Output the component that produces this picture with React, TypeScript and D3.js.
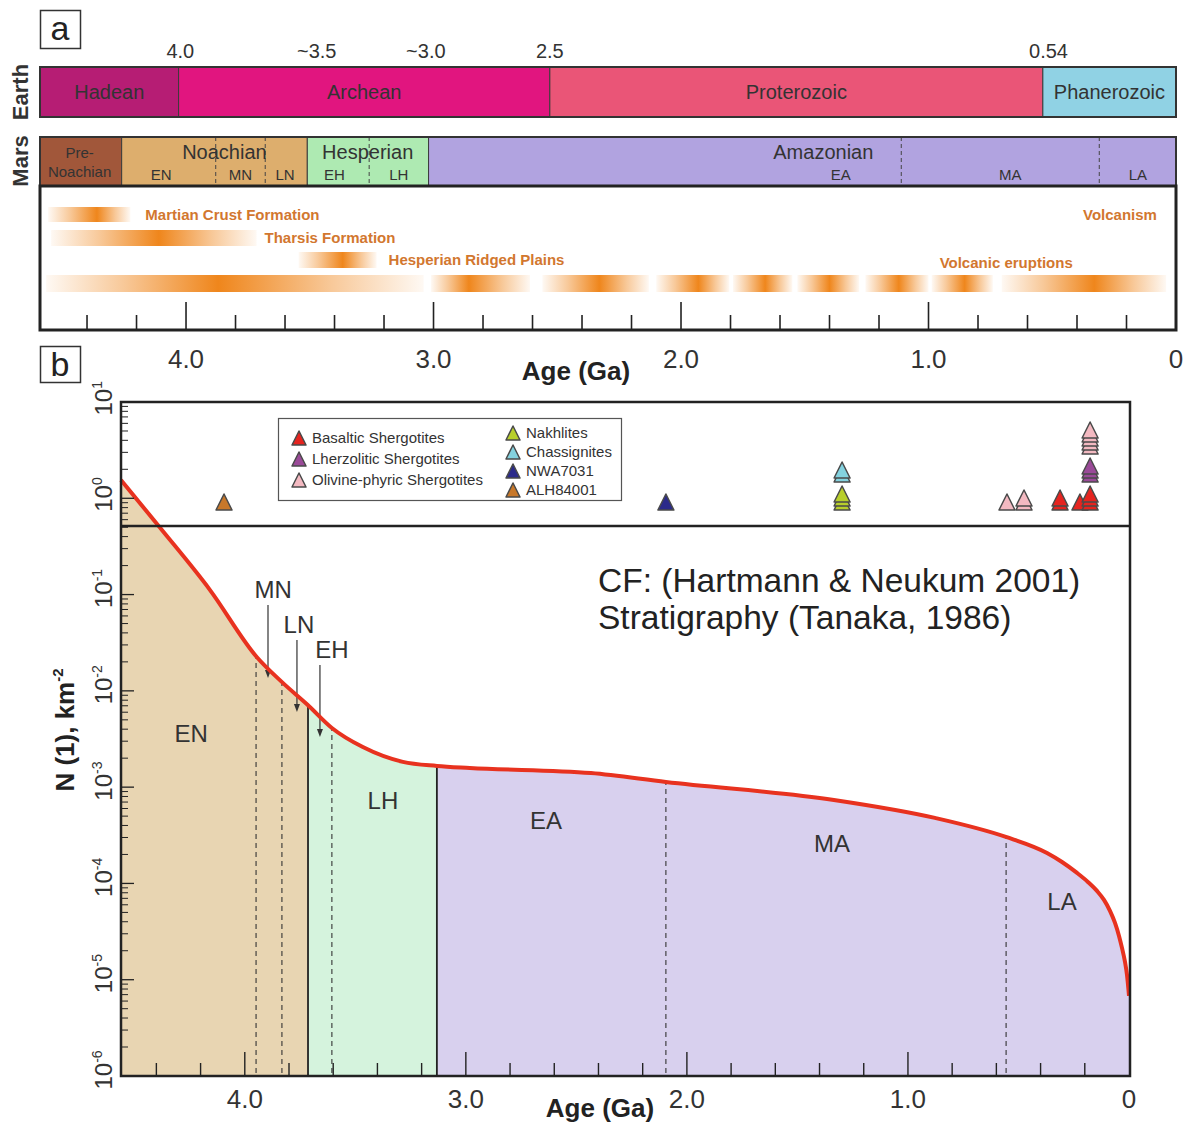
import React, { useEffect, useRef } from 'react';
import * as d3 from 'd3';

// ---------- panel a : time scales (ages in Ga) ----------
const earthEons = ['Hadean', 'Archean', 'Proterozoic', 'Phanerozoic'];
const earthEonStart = [4.59, 4.03, 2.53, 0.538];
const earthEonColor = ['#b61d74', '#e1157f', '#ea5577', '#90d2e4'];
const earthTickAge = [4.023, 3.472, 3.031, 2.53, 0.515];
const earthTickLabel = ['4.0', '~3.5', '~3.0', '2.5', '0.54'];

const marsPeriods = ['Pre-Noachian', 'Noachian', 'Hesperian', 'Amazonian'];
const marsPeriodStart = [4.59, 4.26, 3.51, 3.02];
const marsPeriodColor = ['#a1573a', '#ddae6d', '#aeeab2', '#b1a3e0'];
const marsPeriodLabelAge = [4.43, 3.845, 3.266, 1.425];
const marsEpochs = ['EN', 'MN', 'LN', 'EH', 'LH', 'EA', 'MA', 'LA'];
const marsEpochStart = [4.26, 3.88, 3.68, 3.51, 3.26, 3.02, 1.11, 0.31];
const marsEpochLabelAge = [4.1, 3.78, 3.6, 3.4, 3.14, 1.355, 0.67, 0.154];

// activity bands: start / peak / end
const bandNames = ['Martian Crust Formation', 'Tharsis Formation', 'Hesperian Ridged Plains'];
const bandStart = [4.557, 4.545, 3.545];
const bandPeak = [4.36, 4.11, 3.367];
const bandEnd = [4.225, 3.715, 3.23];
const eruptionStart = [4.565, 3.01, 2.56, 2.1, 1.79, 1.53, 1.255, 0.987, 0.704];
const eruptionPeak = [3.87, 2.857, 2.33, 1.93, 1.66, 1.4, 1.12, 0.854, 0.33];
const eruptionEnd = [3.04, 2.61, 2.13, 1.805, 1.55, 1.28, 1.0, 0.74, 0.04];
const axisTicksA = [4, 3, 2, 1, 0];

// ---------- panel b : crater chronology ----------
const curveAge = [4.56, 4.385, 4.158, 3.946, 3.828, 3.715, 3.606, 3.466, 3.285, 3.131, 2.982, 2.434, 2.095, 1.335, 0.878, 0.557, 0.371, 0.303, 0.235, 0.186, 0.1448, 0.1131, 0.086, 0.0633, 0.0452, 0.0317, 0.0181, 0.009, 0.0023, 0];
const curveN = [1.55, 0.5, 0.112, 0.0225, 0.0121, 0.00714, 0.00412, 0.00261, 0.00183, 0.00166, 0.00158, 0.0014, 0.00113, 0.000736, 0.000479, 0.000304, 0.000207, 0.000167, 0.0001285, 0.0001037, 0.0000836, 0.0000674, 0.0000519, 0.0000389, 0.0000285, 0.0000214, 0.0000153, 0.0000112, 0.00000783, 0.00000679];

const bPeriodStart = [4.56, 3.714, 3.131];
const bPeriodColor = ['#e8d5b2', '#d5f3dd', '#d8d0ee'];
const bSolid = [3.714, 3.131];
const bDashed = [3.949, 3.832, 3.606, 2.095, 0.556];
const bEpochLabels = ['EN', 'LH', 'EA', 'MA', 'LA'];
const bEpochAge = [4.243, 3.375, 2.637, 1.344, 0.303];
const bEpochN = [0.00366, 0.000736, 0.000457, 0.000264, 0.000066];
const arrowLabels = ['MN', 'LN', 'EH'];
const arrowAge = [3.895, 3.764, 3.66];
const arrowLabelAge = [3.872, 3.755, 3.606];
const arrowTopN = [0.078, 0.0338, 0.0186];
const arrowTipN = [0.0136, 0.00604, 0.00332];
const axisTicksB = [4, 3, 2, 1, 0];

// meteorite crystallisation ages
const meteorTypes = ['Basaltic Shergotites', 'Lherzolitic Shergotites', 'Olivine-phyric Shergotites', 'Nakhlites', 'Chassignites', 'NWA7031', 'ALH84001'];
const meteorColors = ['#e5241f', '#9a4a98', '#f3b9c1', '#b8cf2c', '#84d2df', '#2b2a8a', '#c8782a'];
const basalticAges = [0.312, 0.312, 0.222, 0.176, 0.176, 0.176];
const lherzoliticAges = [0.176, 0.176, 0.176];
const olivineAges = [0.552, 0.475, 0.475, 0.176, 0.176, 0.176, 0.176, 0.176];
const nakhliteAges = [1.298, 1.298, 1.298];
const chassigniteAges = [1.298, 1.298];
const nwaAges = [2.095];
const alhAges = [4.094];

const App = () => {
  const ref = useRef<SVGSVGElement>(null);

  useEffect(() => {
    const svg = d3.select(ref.current);
    svg.selectAll('*').remove();
    svg.attr('font-family', "'Liberation Sans', Arial, sans-serif");
    const defs = svg.append('defs');
    const ink = '#333';
    const orange = '#ef861c';
    const orangeText = '#d2772f';

    // ================= panel a =================
    const xa = d3.scaleLinear().domain([4.59, 0]).range([40, 1176]);

    svg.append('rect').attr('x', 40.5).attr('y', 10.5).attr('width', 40).attr('height', 38)
      .attr('fill', '#fff').attr('stroke', ink).attr('stroke-width', 1.5);
    svg.append('text').attr('x', 60).attr('y', 40).attr('text-anchor', 'middle')
      .attr('font-size', 34).attr('fill', '#222').text('a');

    // Earth / Mars side labels
    [['Earth', 92], ['Mars', 161]].forEach(([t, y]) => {
      svg.append('text').attr('transform', `translate(28,${y}) rotate(-90)`)
        .attr('text-anchor', 'middle').attr('font-size', 22).attr('font-weight', 'bold')
        .attr('fill', ink).text(t as string);
    });

    // Earth bar
    const earthY = 67, earthH = 50;
    earthEons.forEach((name, i) => {
      const x0 = xa(earthEonStart[i]);
      const x1 = xa(i < earthEons.length - 1 ? earthEonStart[i + 1] : 0);
      svg.append('rect').attr('x', x0).attr('y', earthY).attr('width', x1 - x0).attr('height', earthH)
        .attr('fill', earthEonColor[i]).attr('stroke', '#3a3a3a').attr('stroke-width', 1);
      svg.append('text').attr('x', (x0 + x1) / 2).attr('y', earthY + earthH / 2 + 7)
        .attr('text-anchor', 'middle').attr('font-size', 20).attr('fill', ink).text(name);
    });
    svg.append('rect').attr('x', 40).attr('y', earthY).attr('width', 1136).attr('height', earthH)
      .attr('fill', 'none').attr('stroke', ink).attr('stroke-width', 2);
    earthTickAge.forEach((a, i) => {
      svg.append('text').attr('x', xa(a)).attr('y', 58).attr('text-anchor', 'middle')
        .attr('font-size', 20).attr('fill', ink).text(earthTickLabel[i]);
    });

    // Mars bar
    const marsY = 137, marsH = 49;
    marsPeriods.forEach((name, i) => {
      const x0 = xa(marsPeriodStart[i]);
      const x1 = xa(i < marsPeriods.length - 1 ? marsPeriodStart[i + 1] : 0);
      svg.append('rect').attr('x', x0).attr('y', marsY).attr('width', x1 - x0).attr('height', marsH)
        .attr('fill', marsPeriodColor[i]).attr('stroke', '#3a3a3a').attr('stroke-width', 1);
    });
    marsEpochStart.forEach((a) => {
      if (marsPeriodStart.includes(a)) return;
      svg.append('line').attr('x1', xa(a)).attr('x2', xa(a)).attr('y1', marsY).attr('y2', marsY + marsH)
        .attr('stroke', '#444').attr('stroke-width', 1).attr('stroke-dasharray', '4,3');
    });
    marsPeriods.forEach((name, i) => {
      const x = xa(marsPeriodLabelAge[i]);
      if (i === 0) {
        const t = svg.append('text').attr('text-anchor', 'middle').attr('font-size', 15).attr('fill', ink);
        t.append('tspan').attr('x', x).attr('y', 158).text('Pre-');
        t.append('tspan').attr('x', x).attr('y', 177).text('Noachian');
      } else {
        svg.append('text').attr('x', x).attr('y', 159).attr('text-anchor', 'middle')
          .attr('font-size', 20).attr('fill', ink).text(name);
      }
    });
    marsEpochs.forEach((name, i) => {
      svg.append('text').attr('x', xa(marsEpochLabelAge[i])).attr('y', 180).attr('text-anchor', 'middle')
        .attr('font-size', 15).attr('fill', ink).text(name);
    });
    svg.append('rect').attr('x', 40).attr('y', marsY).attr('width', 1136).attr('height', marsH)
      .attr('fill', 'none').attr('stroke', ink).attr('stroke-width', 2);

    // activity box
    const addGrad = (id: string, s: number, p: number, e: number) => {
      const g = defs.append('linearGradient').attr('id', id).attr('x1', 0).attr('x2', 1).attr('y1', 0).attr('y2', 0);
      const off = (xa(p) - xa(s)) / (xa(e) - xa(s));
      [[0, 0.05], [off * 0.45, 0.45], [off, 1], [off + (1 - off) * 0.55, 0.45], [1, 0.05]].forEach(([o, op]) => {
        g.append('stop').attr('offset', o).attr('stop-color', orange).attr('stop-opacity', op);
      });
    };
    const bandRows = [[207, 15], [230, 16], [252, 16]];
    const bandGap = [15, 8, 12];
    bandNames.forEach((name, i) => {
      addGrad(`band${i}`, bandStart[i], bandPeak[i], bandEnd[i]);
      const x0 = xa(bandStart[i]), x1 = xa(bandEnd[i]);
      svg.append('rect').attr('x', x0).attr('y', bandRows[i][0]).attr('width', x1 - x0).attr('height', bandRows[i][1])
        .attr('fill', `url(#band${i})`);
      svg.append('text').attr('x', x1 + bandGap[i]).attr('y', bandRows[i][0] + bandRows[i][1] / 2 + 5)
        .attr('font-size', 15).attr('font-weight', 'bold').attr('fill', orangeText).text(name);
    });
    eruptionStart.forEach((s, i) => {
      addGrad(`erupt${i}`, s, eruptionPeak[i], eruptionEnd[i]);
      const x0 = xa(s), x1 = xa(eruptionEnd[i]);
      svg.append('rect').attr('x', x0).attr('y', 275).attr('width', x1 - x0).attr('height', 17)
        .attr('fill', `url(#erupt${i})`);
    });
    svg.append('text').attr('x', xa(0.077)).attr('y', 220).attr('text-anchor', 'end')
      .attr('font-size', 15).attr('font-weight', 'bold').attr('fill', orangeText).text('Volcanism');
    svg.append('text').attr('x', xa(0.955)).attr('y', 268)
      .attr('font-size', 15).attr('font-weight', 'bold').attr('fill', orangeText).text('Volcanic eruptions');

    d3.range(1, 23).map((k) => k * 0.2).forEach((a) => {
      const major = Math.abs(a - Math.round(a)) < 1e-6;
      svg.append('line').attr('x1', xa(a)).attr('x2', xa(a)).attr('y1', 330).attr('y2', major ? 302 : 315)
        .attr('stroke', '#222').attr('stroke-width', 1.6);
    });
    svg.append('rect').attr('x', 40).attr('y', 186).attr('width', 1136).attr('height', 144)
      .attr('fill', 'none').attr('stroke', '#222').attr('stroke-width', 3);
    axisTicksA.forEach((v) => {
      svg.append('text').attr('x', xa(v)).attr('y', 368).attr('text-anchor', 'middle')
        .attr('font-size', 26).attr('fill', ink).text(v === 0 ? '0' : v.toFixed(1));
    });
    svg.append('text').attr('x', 576).attr('y', 380).attr('text-anchor', 'middle')
      .attr('font-size', 26).attr('font-weight', 'bold').attr('fill', '#222').text('Age (Ga)');

    // ================= panel b =================
    const xb = d3.scaleLinear().domain([4.56, 0]).range([121, 1129]);
    const yb = d3.scaleLog().domain([1e-6, 10]).range([1076, 402]);
    const pts = curveAge.map((a, i) => [a, curveN[i]] as [number, number]);

    svg.append('rect').attr('x', 40.5).attr('y', 346.5).attr('width', 40).attr('height', 36)
      .attr('fill', '#fff').attr('stroke', ink).attr('stroke-width', 1.5);
    svg.append('text').attr('x', 60).attr('y', 376).attr('text-anchor', 'middle')
      .attr('font-size', 34).attr('fill', '#222').text('b');

    const area = d3.area<[number, number]>()
      .x((d) => xb(d[0])).y0(yb(1e-6)).y1((d) => yb(d[1])).curve(d3.curveMonotoneX);
    const line = d3.line<[number, number]>()
      .x((d) => xb(d[0])).y((d) => yb(d[1])).curve(d3.curveMonotoneX);
    defs.append('clipPath').attr('id', 'under').append('path').attr('d', area(pts));

    const under = svg.append('g').attr('clip-path', 'url(#under)');
    bPeriodStart.forEach((a, i) => {
      const x0 = xb(a);
      const x1 = xb(i < bPeriodStart.length - 1 ? bPeriodStart[i + 1] : 0);
      under.append('rect').attr('x', x0).attr('y', 402).attr('width', x1 - x0).attr('height', 674)
        .attr('fill', bPeriodColor[i]);
    });
    bSolid.forEach((a) => {
      under.append('line').attr('x1', xb(a)).attr('x2', xb(a)).attr('y1', 402).attr('y2', 1076)
        .attr('stroke', '#222').attr('stroke-width', 1.8);
    });
    bDashed.forEach((a) => {
      under.append('line').attr('x1', xb(a)).attr('x2', xb(a)).attr('y1', 402).attr('y2', 1076)
        .attr('stroke', '#333').attr('stroke-width', 1.1).attr('stroke-dasharray', '5,4');
    });

    // period labels
    bEpochLabels.forEach((t, i) => {
      svg.append('text').attr('x', xb(bEpochAge[i])).attr('y', yb(bEpochN[i]) + 9)
        .attr('text-anchor', 'middle').attr('font-size', 24).attr('fill', ink).text(t);
    });
    arrowLabels.forEach((t, i) => {
      const x = xb(arrowAge[i]);
      const y0 = yb(arrowTopN[i]), y1 = yb(arrowTipN[i]);
      svg.append('line').attr('x1', x).attr('x2', x).attr('y1', y0).attr('y2', y1 - 6)
        .attr('stroke', '#333').attr('stroke-width', 1.2);
      svg.append('path').attr('d', `M${x - 3},${y1 - 8}L${x + 3},${y1 - 8}L${x},${y1}Z`).attr('fill', '#333');
      svg.append('text').attr('x', xb(arrowLabelAge[i])).attr('y', y0 - 7).attr('text-anchor', 'middle')
        .attr('font-size', 24).attr('fill', ink).text(t);
    });

    // red crater curve
    svg.append('path').attr('d', line(pts)).attr('fill', 'none')
      .attr('stroke', '#e8321f').attr('stroke-width', 4).attr('stroke-linejoin', 'round');

    // frame and divider
    svg.append('line').attr('x1', 121).attr('x2', 1130).attr('y1', 526).attr('y2', 526)
      .attr('stroke', '#222').attr('stroke-width', 2.5);
    svg.append('rect').attr('x', 121).attr('y', 402).attr('width', 1009).attr('height', 674)
      .attr('fill', 'none').attr('stroke', '#222').attr('stroke-width', 2.5);

    // y axis (log)
    d3.range(-6, 2).forEach((k) => {
      const y = yb(10 ** k);
      svg.append('line').attr('x1', 121).attr('x2', 134).attr('y1', y).attr('y2', y)
        .attr('stroke', '#222').attr('stroke-width', 1.3);
      if (k < 1) {
        d3.range(2, 10).forEach((m) => {
          const ym = yb(m * 10 ** k);
          svg.append('line').attr('x1', 121).attr('x2', 128).attr('y1', ym).attr('y2', ym)
            .attr('stroke', '#222').attr('stroke-width', 1);
        });
      }
      const t = svg.append('text').attr('transform', `translate(112,${y}) rotate(-90)`)
        .attr('x', -13.5).attr('font-size', 24).attr('fill', ink);
      t.append('tspan').text('10');
      t.append('tspan').attr('dy', -10).attr('font-size', 14).text(String(k));
    });
    const yl = svg.append('text').attr('transform', 'translate(74,730) rotate(-90)')
      .attr('text-anchor', 'middle').attr('font-size', 26).attr('font-weight', 'bold').attr('fill', '#222');
    yl.append('tspan').text('N (1), km');
    yl.append('tspan').attr('dy', -11).attr('font-size', 15).text('-2');

    // x axis
    d3.range(1, 23).map((k) => k * 0.2).forEach((a) => {
      const major = Math.abs(a - Math.round(a)) < 1e-6;
      svg.append('line').attr('x1', xb(a)).attr('x2', xb(a)).attr('y1', 1076).attr('y2', major ? 1052 : 1063)
        .attr('stroke', '#222').attr('stroke-width', 1.4);
    });
    axisTicksB.forEach((v) => {
      svg.append('text').attr('x', xb(v)).attr('y', 1108).attr('text-anchor', 'middle')
        .attr('font-size', 26).attr('fill', ink).text(v === 0 ? '0' : v.toFixed(1));
    });
    svg.append('text').attr('x', 600).attr('y', 1117).attr('text-anchor', 'middle')
      .attr('font-size', 26).attr('font-weight', 'bold').attr('fill', '#222').text('Age (Ga)');

    // annotation
    const note = svg.append('text').attr('font-size', 33.5).attr('fill', '#222');
    note.append('tspan').attr('x', 598).attr('y', 592).text('CF: (Hartmann & Neukum 2001)');
    note.append('tspan').attr('x', 598).attr('y', 629).text('Stratigraphy (Tanaka, 1986)');

    // triangles
    const tri = (x: number, base: number, w: number, h: number, fill: string) => {
      svg.append('path').attr('d', `M${x - w / 2},${base}L${x},${base - h}L${x + w / 2},${base}Z`)
        .attr('fill', fill).attr('stroke', '#4a4a4a').attr('stroke-width', 1.5).attr('stroke-linejoin', 'round');
    };
    const meteorAges = [basalticAges, lherzoliticAges, olivineAges, nakhliteAges, chassigniteAges, nwaAges, alhAges];
    const stacks = new Map<string, { base: number; type: number }>();
    meteorAges.forEach((ages, t) => ages.forEach((a) => {
      const key = a.toFixed(3);
      const s = stacks.get(key);
      const base = s ? s.base - (s.type === t ? 4 : 20) : 510;
      stacks.set(key, { base, type: t });
      tri(xb(a), base, 16, 16, meteorColors[t]);
    }));

    // legend
    svg.append('rect').attr('x', 278.5).attr('y', 418.5).attr('width', 343).attr('height', 82)
      .attr('fill', '#fff').attr('stroke', '#555').attr('stroke-width', 1.2);
    meteorTypes.forEach((name, i) => {
      const left = i < 3;
      const cy = left ? 438 + i * 21 : 433 + (i - 3) * 19;
      const x = left ? 299 : 513;
      tri(x, cy + 7, 14, 14, meteorColors[i]);
      svg.append('text').attr('x', x + 13).attr('y', cy + 5).attr('font-size', 15)
        .attr('fill', ink).text(name);
    });
  }, []);

  return (
    <svg ref={ref} width={1192} height={1124}
      style={{ position: 'absolute', left: 0, top: 0, display: 'block', background: '#fff' }} />
  );
};

export default App;
